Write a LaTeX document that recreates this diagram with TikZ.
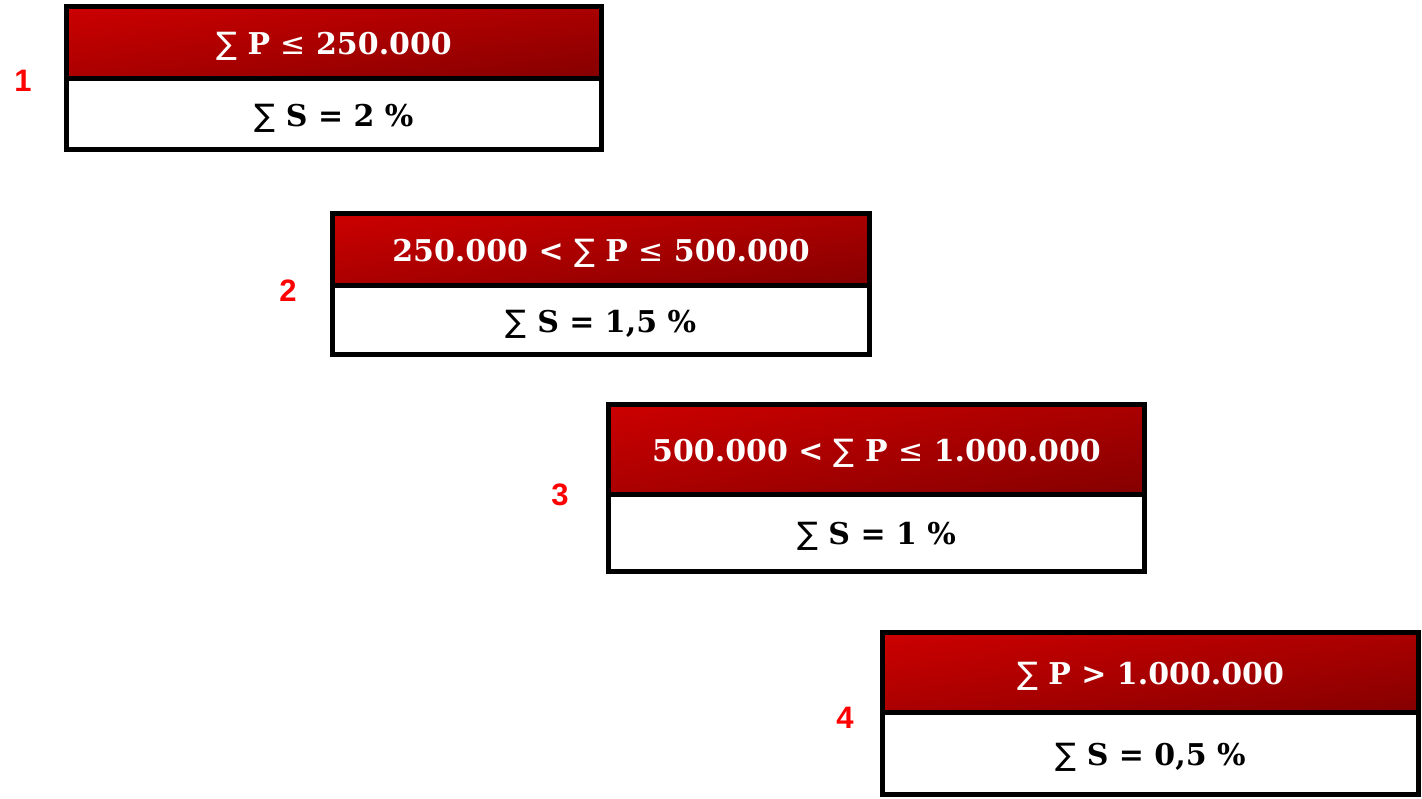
\documentclass[tikz,border=0pt]{standalone}
\usepackage{fontspec}
\usetikzlibrary{shadings}
\setmainfont{DejaVu Serif}
\newfontfamily\numfont{Liberation Sans}
\newfontfamily\symfont{DejaVu Sans}
\newcommand\sm{{\symfont\mdseries\fontsize{31}{34}\selectfont ∑}}
\newcommand\lee{{\symfont\mdseries ≤}}
\definecolor{hl}{HTML}{CC0000}
\definecolor{hm}{HTML}{AA0000}
\definecolor{hd}{HTML}{850000}
\definecolor{numred}{HTML}{FF0000}
\newcommand\tierbox[8]{%
  % #1 name, #2 left, #3 top, #4 divider, #5 right, #6 bottom, #7 top text, #8 bottom text
  \path[hdr] (#2,#3) rectangle (#5,#4);
  \path[fill=white] (#2,#4) rectangle (#5,#6);
  \draw[frame] (#2,#3) rectangle (#5,#6);
  \draw[frame] (#2,#4) -- (#5,#4);
  \node[toptxt] (#1t) at ({(#2+#5)/2},{(#3+#4)/2+4}) {#7};
  \node[bottxt] (#1b) at ({(#2+#5)/2},{(#4+#6)/2+4}) {#8};
}
\begin{document}
\begin{tikzpicture}[x=1pt,y=-1pt,
  hdr/.style={upper left=hl, upper right=hm, lower left=hm, lower right=hd},
  frame/.style={draw=black, line width=5pt},
  toptxt/.style={text=white, font=\bfseries\fontsize{30}{35}\selectfont, inner sep=0pt},
  bottxt/.style={text=black, font=\bfseries\fontsize{30}{35}\selectfont, inner sep=0pt},
  num/.style={text=numred, font=\numfont\bfseries\fontsize{31}{36}\selectfont, inner sep=0pt}]
\useasboundingbox (0,0) rectangle (1422,799);
\tierbox{a}{66.5}{6.5}{79}{601.5}{149.5}{\sm\ P \lee\ 250.000}{\sm\ S = 2 \%}
\tierbox{b}{332.5}{213.5}{286}{869.5}{354.5}{250.000 < \sm\ P \lee\ 500.000}{\sm\ S = 1,5 \%}
\tierbox{c}{608.5}{404.5}{494}{1144.5}{571.5}{500.000 < \sm\ P \lee\ 1.000.000}{\sm\ S = 1 \%}
\tierbox{d}{882.5}{632.5}{712}{1418.5}{794.5}{\sm\ P > 1.000.000}{\sm\ S = 0,5 \%}
\node[num] (n1) at (23,81) {1};
\node[num] (n2) at (288,291) {2};
\node[num] (n3) at (560,495) {3};
\node[num] (n4) at (845,718) {4};
\end{tikzpicture}
\end{document}
